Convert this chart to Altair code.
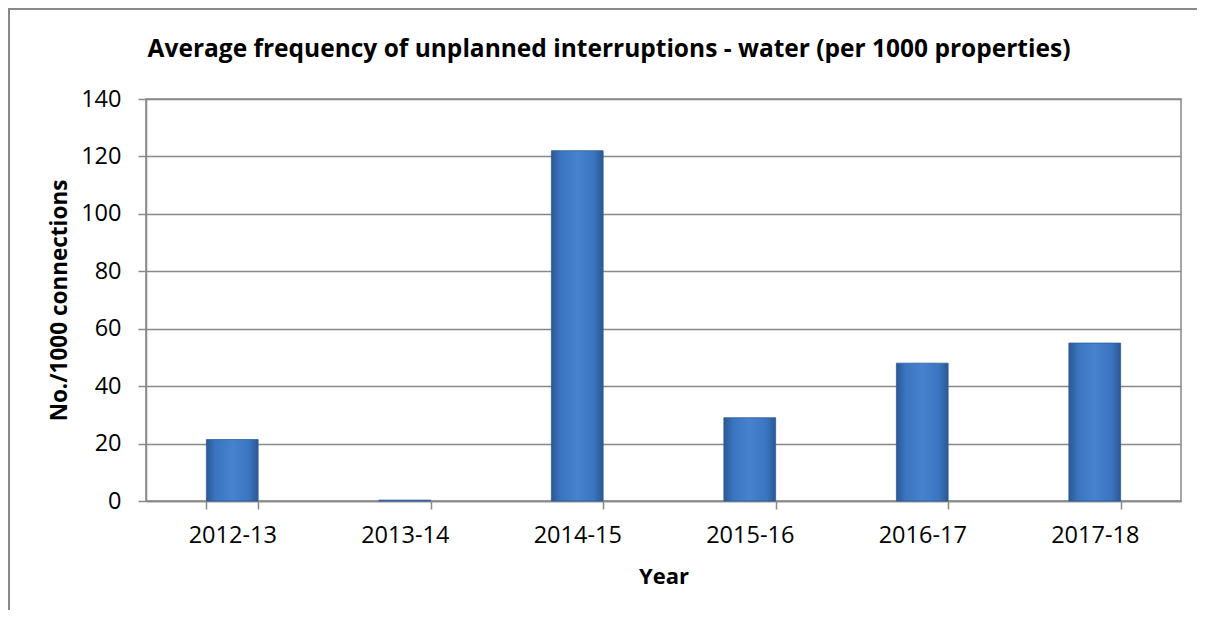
import altair as alt
import pandas as pd

years = ["2012-13", "2013-14", "2014-15", "2015-16", "2016-17", "2017-18"]
values = [21.4, 0.3, 122, 29, 48, 55]
y_ticks = [0, 20, 40, 60, 80, 100, 120, 140]
title_text = ["Average frequency of unplanned interruptions - water (per 1000 properties)"]

df = pd.DataFrame({"Year": years, "Value": values})

W, H = 1035, 402
GRAY = "#898989"
FONT = "Open Sans"

bar_fill = alt.Gradient(
    gradient="linear",
    x1=0, x2=1, y1=0, y2=0,
    stops=[
        alt.GradientStop(color="#2b5893", offset=0),
        alt.GradientStop(color="#3b75c0", offset=0.18),
        alt.GradientStop(color="#4682cf", offset=0.5),
        alt.GradientStop(color="#3b75c0", offset=0.82),
        alt.GradientStop(color="#2b5893", offset=1),
    ],
)

bars = alt.Chart(df).mark_bar(fill=bar_fill, stroke="#2e5c98", strokeWidth=0.8).encode(
    x=alt.X(
        "Year:N",
        sort=years,
        scale=alt.Scale(paddingInner=0.7, paddingOuter=0.35),
        axis=alt.Axis(
            title="Year",
            labelAngle=0,
            labelFont=FONT,
            labelFontSize=23.5,
            labelColor="#000000",
            labelPadding=14,
            tickSize=8,
            tickColor=GRAY,
            tickWidth=1.5,
            domainColor=GRAY,
            domainWidth=1.5,
            tickBand="extent",
            titleFont=FONT,
            titleFontSize=22,
            titleFontWeight="bold",
            titleColor="#000000",
            titleBaseline="middle",
            titleY=75,
        ),
    ),
    y=alt.Y(
        "Value:Q",
        scale=alt.Scale(domain=[0, 140], nice=False),
        axis=alt.Axis(
            title="No./1000 connections",
            values=y_ticks,
            labelFont=FONT,
            labelFontSize=23.5,
            labelColor="#000000",
            labelPadding=17,
            tickSize=8,
            tickColor=GRAY,
            tickWidth=1.5,
            domainColor=GRAY,
            domainWidth=1.5,
            grid=True,
            gridColor=GRAY,
            gridWidth=1.5,
            titleFont=FONT,
            titleFontSize=22.5,
            titleFontWeight="bold",
            titleColor="#000000",
            titleAngle=270,
            titleBaseline="middle",
            titleX=-87,
            titleY=H / 2,
        ),
    ),
)

frame_df = pd.DataFrame({"a": [0]})
top_line = alt.Chart(frame_df).mark_rule(color=GRAY, strokeWidth=2).encode(
    x=alt.value(-138), x2=alt.value(W + 20), y=alt.value(-90)
)
left_line = alt.Chart(frame_df).mark_rule(color=GRAY, strokeWidth=2).encode(
    x=alt.value(-137), y=alt.value(-91), y2=alt.value(H + 120)
)

title_df = pd.DataFrame({"t": title_text})
title = alt.Chart(title_df).mark_text(
    font=FONT, fontSize=24.5, fontWeight="bold", color="#000000",
    align="center", baseline="alphabetic",
).encode(
    text="t:N", x=alt.value(463), y=alt.value(-42)
)

chart = (
    alt.layer(bars, top_line, left_line, title)
    .properties(
        width=W,
        height=H,
        autosize=alt.AutoSizeParams(type="none"),
        padding={"left": 138, "top": 91, "right": 16, "bottom": 109},
        background="#ffffff",
    )
    .configure_view(stroke=GRAY, strokeWidth=1.5)
)

chart.save("out.html", embed_options={"renderer": "svg", "actions": False})
